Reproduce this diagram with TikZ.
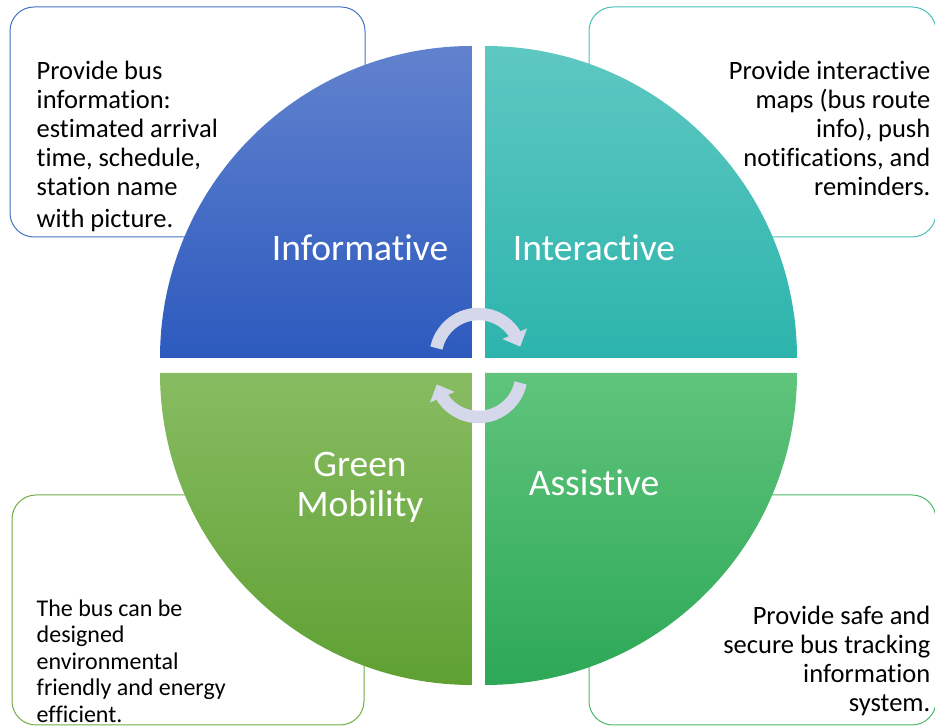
\documentclass[tikz,border=0pt]{standalone}
\usepackage{fontspec}
\setmainfont{Carlito}[Ligatures={NoCommon,NoContextual}]
\usetikzlibrary{positioning,arrows.meta,bending}

\definecolor{infoline}{RGB}{68,114,196}
\definecolor{interline}{RGB}{75,192,184}
\definecolor{greenline}{RGB}{112,173,71}
\definecolor{assistline}{RGB}{76,184,106}
\definecolor{cyclecol}{RGB}{212,216,234}

\begin{document}
\begin{tikzpicture}[x=1pt,y=1pt,
    notebox/.style={draw,line width=1pt,rounded corners=24pt,minimum height=230pt},
    notetext/.style={inner sep=0pt,font=\fontsize{26.5}{29}\selectfont},
    quadlabel/.style={text=white,align=center,font=\fontsize{37.5}{40}\selectfont},
    cyclearrow/.style={cyclecol,line width=12.5pt,-{Triangle[width=26pt,length=14pt]}}]
    \useasboundingbox (0,0) rectangle (935,727);
    %%%%% THE NOTE BOXES
    \node[notebox,infoline,minimum width=355pt] (infobox) at (187.5,605) {};
    \node[notebox,interline,minimum width=347pt] (interbox) at (762.5,605) {};
    \node[notebox,greenline,minimum width=352pt] (greenbox) at (188,117) {};
    \node[notebox,assistline,minimum width=347pt] (assistbox) at (762.5,117) {};
    %%%%% THE CIRCLE
    \shade[top color={rgb,255:red,98;green,130;blue,206},bottom color={rgb,255:red,44;green,90;blue,190}]
      (472,369) -- (160,369) arc[start angle=180,end angle=90,radius=312] -- cycle;
    \shade[top color={rgb,255:red,94;green,200;blue,194},bottom color={rgb,255:red,44;green,180;blue,172}]
      (485,369) -- (485,681) arc[start angle=90,end angle=0,radius=312] -- cycle;
    \shade[top color={rgb,255:red,136;green,188;blue,98},bottom color={rgb,255:red,95;green,160;blue,50}]
      (472,354) -- (472,42) arc[start angle=270,end angle=180,radius=312] -- cycle;
    \shade[top color={rgb,255:red,96;green,196;blue,124},bottom color={rgb,255:red,44;green,168;blue,86}]
      (485,354) -- (797,354) arc[start angle=0,end angle=-90,radius=312] -- cycle;
    % Labels of the quadrants
    \node[quadlabel] (info) at (360,479) {Informative};
    \node[quadlabel] (inter) at (594,479) {Interactive};
    \node[quadlabel] (green) at (360,240) {Green\\Mobility};
    \node[quadlabel] (assist) at (594,244) {Assistive};
    %%%%% THE CYCLE ARROWS
    \draw[cyclearrow] (478.5,370) ++(168:43) arc[start angle=168,end angle=14,radius=43];
    \draw[cyclearrow] (478.5,353) ++(-12:43) arc[start angle=-12,end angle=-166,radius=43];
    %%%% TEXTS IN THE BOXES
    \node[notetext,align=left,below right=54pt and 27pt of infobox.north west] (infotext)
      {Provide bus\\information:\\estimated arrival\\time, schedule,\\station name\\[3pt]with picture.};
    \node[notetext,align=right,below left=54pt and 6pt of interbox.north east] (intertext)
      {Provide interactive\\maps (bus route\\info), push\\notifications, and\\reminders.};
    \node[notetext,align=left,font=\fontsize{24}{26.5}\selectfont,below right=105pt and 25pt of greenbox.north west] (greentext)
      {The bus can be\\designed\\environmental\\friendly and energy\\efficient.};
    \node[notetext,align=right,below left=111pt and 6pt of assistbox.north east] (assisttext)
      {Provide safe and\\secure bus tracking\\information\\system.};
\end{tikzpicture}
\end{document}
